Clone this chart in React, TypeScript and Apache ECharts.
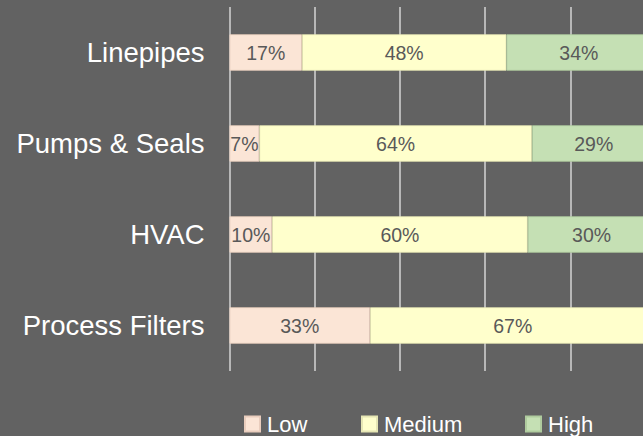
import React, { useEffect, useRef } from "react";
import * as echarts from "echarts";

const categories = ["Linepipes", "Pumps & Seals", "HVAC", "Process Filters"];
const seriesNames = ["Low", "Medium", "High"];
const lowValues = [17, 7, 10, 33];
const mediumValues = [48, 64, 60, 67];
const highValues = [34, 29, 30, 0];
const seriesColors = ["#FBE5D6", "#FFFFCC", "#C5E0B4"];
const borderColors = ["#E9CDBD", "#E6E6B4", "#AFCB9E"];

const FONT = "'Liberation Sans', Arial, Helvetica, sans-serif";

// The plot runs past the right edge of the picture: 0..100% spans 426px,
// of which 413.5px are visible, so the visible axis ends at about 97%.
const VISIBLE_MAX = (413.5 / 426) * 100;

export default function App() {
  const ref = useRef<HTMLDivElement>(null);
  useEffect(() => {
    document.body.style.margin = "0";
    const chart = echarts.init(ref.current!, null, { renderer: "svg" });
    const values = [lowValues, mediumValues, highValues];
    const legendLefts = [239, 356, 520];
    const g = "#d4d4d4";
    chart.setOption({
      animation: false,
      backgroundColor: "#626262",
      grid: { left: 229.5, top: 7, right: 0, bottom: 65, containLabel: false },
      xAxis: {
        type: "value",
        min: 0,
        max: VISIBLE_MAX,
        interval: 20,
        axisLabel: { show: false },
        axisLine: { show: false },
        axisTick: { show: false },
        splitLine: { show: true, lineStyle: { color: [g, g, g, g, g, "rgba(0,0,0,0)"], width: 1.5 } },
      },
      yAxis: {
        type: "category",
        data: categories,
        inverse: true,
        axisLine: { show: false },
        axisTick: { show: false },
        axisLabel: { color: "#ffffff", fontSize: 27.5, fontFamily: FONT, margin: 25 },
      },
      legend: seriesNames.map((n, i) => ({
        data: [n],
        left: legendLefts[i],
        top: 408,
        itemWidth: 15,
        itemHeight: 15,
        icon: "rect",
        textStyle: { color: "#ffffff", fontSize: 22, fontFamily: FONT, padding: [0, 0, 0, 2] },
      })),
      series: seriesNames.map((n, i) => ({
        name: n,
        type: "bar",
        stack: "total",
        barWidth: "40%",
        clip: false,
        data: values[i],
        itemStyle: { color: seriesColors[i], borderColor: borderColors[i], borderWidth: 0.8 },
        label: {
          show: true,
          position: "inside",
          color: "#595959",
          fontSize: 19.5,
          fontFamily: FONT,
          formatter: (p: any) => (p.value ? p.value + "%" : ""),
        },
      })),
    });
    return () => chart.dispose();
  }, []);
  return <div ref={ref} style={{ width: 643, height: 436, position: "absolute", left: 0, top: 0 }} />;
}
